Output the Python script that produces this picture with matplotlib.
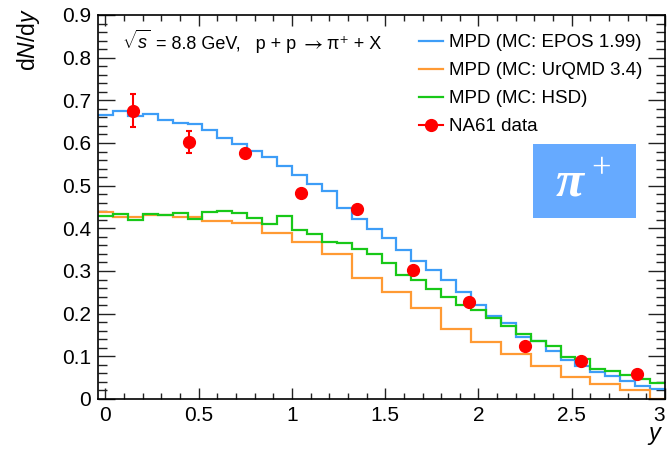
import numpy as np
import matplotlib
matplotlib.use("Agg")
import matplotlib.pyplot as plt
from matplotlib.lines import Line2D
from matplotlib.ticker import MultipleLocator, FuncFormatter
from matplotlib.transforms import offset_copy

plt.rcParams['font.family'] = ['Liberation Sans', 'DejaVu Sans']
plt.rcParams['mathtext.fontset'] = 'custom'
plt.rcParams['mathtext.rm'] = 'Liberation Sans'
plt.rcParams['mathtext.it'] = 'Liberation Sans:italic'
plt.rcParams['mathtext.bf'] = 'Liberation Sans:bold'

# Rapidity histograms (bin width 0.08 from -0.04 to 3.00)
bin_edges = np.round(np.arange(-0.04, 3.0001, 0.08), 2)
epos_dndy = [0.665, 0.676, 0.663, 0.669, 0.655, 0.648, 0.645, 0.630, 0.612, 0.598,
             0.582, 0.567, 0.547, 0.525, 0.503, 0.487, 0.448, 0.422, 0.398, 0.378,
             0.349, 0.323, 0.302, 0.279, 0.251, 0.220, 0.195, 0.177, 0.146, 0.135,
             0.113, 0.091, 0.078, 0.064, 0.053, 0.042, 0.031, 0.024]
hsd_dndy = [0.430, 0.434, 0.420, 0.434, 0.431, 0.435, 0.423, 0.439, 0.441, 0.436,
            0.425, 0.410, 0.430, 0.397, 0.387, 0.369, 0.366, 0.352, 0.339, 0.318,
            0.291, 0.280, 0.258, 0.238, 0.220, 0.209, 0.190, 0.171, 0.153, 0.135,
            0.124, 0.098, 0.093, 0.070, 0.066, 0.056, 0.047, 0.038]

# UrQMD histogram uses 0.16-wide bins
urqmd_edges = np.round(np.concatenate([[-0.04], np.arange(0.04, 3.0801, 0.16)]), 2)
urqmd_dndy = [0.439, 0.426, 0.432, 0.427, 0.418, 0.413, 0.390, 0.368, 0.339, 0.284,
              0.250, 0.213, 0.165, 0.133, 0.106, 0.077, 0.051, 0.034, 0.021, 0.0]

# NA61 measurements
na61_y = [0.15, 0.45, 0.75, 1.05, 1.35, 1.65, 1.95, 2.25, 2.55, 2.85]
na61_dndy = [0.676, 0.602, 0.577, 0.483, 0.445, 0.302, 0.227, 0.124, 0.089, 0.059]
na61_err = [0.038, 0.025, 0.006, 0.005, 0.005, 0.004, 0.004, 0.003, 0.003, 0.003]

c_epos = '#3d9df7'
c_urqmd = '#ff9a33'
c_hsd = '#18c818'
c_data = '#ff0000'

fig = plt.figure(figsize=(6.69, 4.49), dpi=100)
ax = fig.add_axes([98 / 669, 1 - 399 / 449, 567 / 669, 384 / 449])

lw = 1.6
ax.stairs(epos_dndy, bin_edges, color=c_epos, lw=lw, baseline=None, zorder=2)
ax.stairs(urqmd_dndy, urqmd_edges, color=c_urqmd, lw=lw, baseline=None, zorder=2)
ax.stairs(hsd_dndy, bin_edges, color=c_hsd, lw=lw, baseline=None, zorder=2.1)
ax.errorbar(na61_y, na61_dndy, yerr=na61_err, fmt='o', color=c_data, ms=8.5,
            elinewidth=1.5, capsize=2.5, capthick=1.5, zorder=3)

ax.set_xlim(-0.04, 3.0)
ax.set_ylim(0, 0.9)

fmt = FuncFormatter(lambda v, p: '%g' % round(v, 3))
ax.xaxis.set_major_locator(MultipleLocator(0.5))
ax.xaxis.set_minor_locator(MultipleLocator(0.1))
ax.yaxis.set_major_locator(MultipleLocator(0.1))
ax.yaxis.set_minor_locator(MultipleLocator(0.02))
ax.xaxis.set_major_formatter(fmt)
ax.yaxis.set_major_formatter(fmt)

ax.tick_params(axis='both', which='both', direction='in', top=True, right=True,
               colors='#222222', labelcolor='black', labelsize=15)
ax.tick_params(axis='x', which='major', length=8, width=1, pad=5)
ax.tick_params(axis='x', which='minor', length=4, width=1)
ax.tick_params(axis='y', which='major', length=12.5, width=1, pad=5)
ax.tick_params(axis='y', which='minor', length=6.5, width=1)
for sp in ax.spines.values():
    sp.set_linewidth(1.2)

fig.canvas.draw()
for t in ax.get_xticklabels():
    if t.get_text() == '3':
        t.set_horizontalalignment('right')
        t.set_x(3.0)

fig.text(28 / 669, 1 - 8 / 449, r'd$N$/d$y$', rotation=90, ha='center', va='top',
         fontsize=16.5)
fig.text(663 / 669, 1 - 436 / 449, r'$y$', ha='right', va='center', fontsize=17)

# Collision label, assembled piece by piece on a common baseline
pieces = [(r'$\sqrt{s}$', {}, 0),
          (' = 8.8 GeV,   p + p', {}, 4),
          (r'$\rightarrow$', {'math_fontfamily': 'stix', 'fontsize': 15}, 4),
          ('π⁺ + X', {}, 0)]
renderer = fig.canvas.get_renderer()
shift = 0.0
for s, kw, gap in pieces:
    props = dict(fontsize=13)
    props.update(kw)
    tr = offset_copy(ax.transAxes, fig=fig, x=shift, y=0, units='dots')
    t = ax.text(0.042, 0.912, s, transform=tr, ha='left', va='baseline', **props)
    shift += t.get_window_extent(renderer).width + gap

handles = [Line2D([], [], color=c_epos, lw=lw),
           Line2D([], [], color=c_urqmd, lw=lw),
           Line2D([], [], color=c_hsd, lw=lw),
           Line2D([], [], color=c_data, lw=1.5, marker='o', ms=8.5)]
labels = ['MPD (MC: EPOS 1.99)', 'MPD (MC: UrQMD 3.4)', 'MPD (MC: HSD)', 'NA61 data']
ax.legend(handles, labels, loc='upper left', bbox_to_anchor=(0.567, 0.95),
          frameon=False, fontsize=13.5, handlelength=1.25, handletextpad=0.35,
          labelspacing=0.58, borderpad=0, borderaxespad=0)

# Particle tag
ax.add_patch(plt.Rectangle((533, 449 - 218), 103, 74, transform=None,
                           facecolor='#66aaff', edgecolor='none', zorder=4))
fig.text(570 / 669, 1 - 183 / 449, 'π', color='white', fontsize=37,
         family='Liberation Serif', weight='bold', style='italic',
         ha='center', va='center', zorder=5)
fig.text(601 / 669, 1 - 170 / 449, '+', color='white', fontsize=25,
         family='Liberation Serif', ha='center', va='center', zorder=5)

fig.savefig('out.png', dpi=100)
